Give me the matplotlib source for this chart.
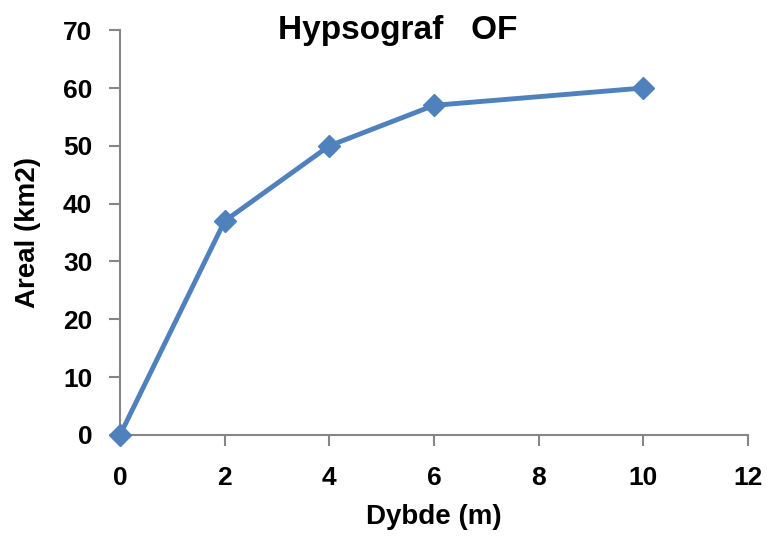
import matplotlib
matplotlib.use("Agg")
import matplotlib.pyplot as plt

# Data
dybde = [0, 2, 4, 6, 10]
areal = [0, 37, 50, 57, 60]
x_ticks = [0, 2, 4, 6, 8, 10, 12]
y_ticks = [0, 10, 20, 30, 40, 50, 60, 70]

plt.rcParams['font.family'] = ['Liberation Sans', 'DejaVu Sans']
plt.rcParams['font.weight'] = 'bold'

fig = plt.figure(figsize=(7.67, 5.49), dpi=100)
ax = fig.add_axes([0.1565, 0.2077, 0.8185, 0.7373])

ax.plot(dybde, areal, color='#4F81BD', linewidth=3.5, marker='D',
        markersize=11, markeredgecolor='#4F81BD', clip_on=False, zorder=3)

ax.set_xlim(0, 12)
ax.set_ylim(0, 70)
ax.set_xticks(x_ticks)
ax.set_yticks(y_ticks)

for s in ['top', 'right']:
    ax.spines[s].set_visible(False)
for s in ['left', 'bottom']:
    ax.spines[s].set_color('#868686')
    ax.spines[s].set_linewidth(1.5)

ax.tick_params(axis='both', direction='out', length=8, width=1.5,
               color='#868686', labelsize=19)
ax.tick_params(axis='y', pad=12)
ax.tick_params(axis='x', pad=14)

fig.text(0.518, 1 - 30 / 549, 'Hypsograf   OF', fontsize=24,
         fontweight='bold', ha='center', va='center')
fig.text((120 + 748) / 2 / 767 - 0.0, 1 - 517 / 549, 'Dybde (m)',
         fontsize=20, fontweight='bold', ha='center', va='center')
fig.text(28 / 767, 1 - 233 / 549, 'Areal (km2)', fontsize=20,
         fontweight='bold', ha='center', va='center', rotation=90)

plt.savefig('out.png', dpi=100)
